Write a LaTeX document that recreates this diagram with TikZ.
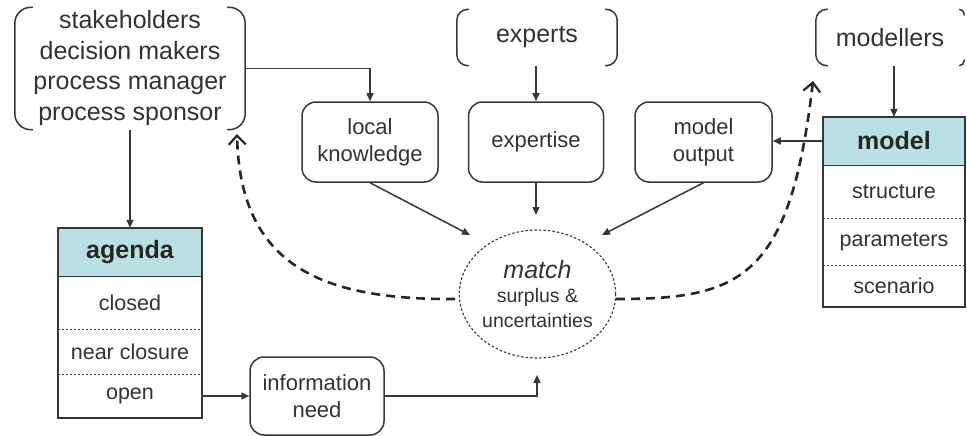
\documentclass[tikz,border=0pt]{standalone}
\usepackage{fontspec}
\setmainfont{Liberation Sans}
\usetikzlibrary{arrows.meta,shapes.geometric,calc}
\definecolor{ink}{RGB}{55,55,55}
\definecolor{txt}{RGB}{50,50,50}
\definecolor{teal0}{RGB}{185,224,226}
\begin{document}
\begin{tikzpicture}[x=1pt,y=-1pt,
  box/.style={draw=ink, line width=1.5pt, rounded corners=14pt, minimum height=80pt,
    align=center, inner sep=0pt, text=txt, font=\fontsize{22}{27}\selectfont},
  grp/.style={inner sep=0pt, align=center, text=txt, font=\fontsize{25}{30.5}\selectfont},
  brk/.style={draw=ink, line width=1.5pt},
  row/.style={inner sep=0pt, text=txt, font=\fontsize{21.5}{26}\selectfont},
  head/.style={row, fill=teal0, text=black!85, font=\bfseries\fontsize{25}{30}\selectfont},
  arr/.style={draw=ink, line width=1.5pt, -{Triangle[length=8pt,width=7pt]}},
  darr/.style={draw=black!85, line width=2.6pt, dash pattern=on 9pt off 6pt,
    -{Straight Barb[length=9pt,width=17pt,line width=2.2pt]}},
  sep/.style={draw=ink, line width=1pt, dash pattern=on 2.5pt off 1.5pt}
]
\useasboundingbox (0,0) rectangle (967,436);

% groups with brackets
\node[grp, minimum width=230pt, minimum height=121pt] (stake) at (130,68.5)
  {\raisebox{-2.5pt}{\begin{tabular}{@{}c@{}}stakeholders\\decision makers\\process manager\\process sponsor\end{tabular}}};
\draw[brk, rounded corners=16pt] ([xshift=18pt]stake.north west) -- (stake.north west) -- (stake.south west) -- ([xshift=18pt]stake.south west);
\draw[brk, rounded corners=16pt] ([xshift=-18pt]stake.north east) -- (stake.north east) -- (stake.south east) -- ([xshift=-18pt]stake.south east);

\node[grp, minimum width=160pt, minimum height=56pt] (experts) at (537,37.5) {experts};
\draw[brk, rounded corners=11pt] ([xshift=12pt]experts.north west) -- (experts.north west) -- (experts.south west) -- ([xshift=12pt]experts.south west);
\draw[brk, rounded corners=11pt] ([xshift=-12pt]experts.north east) -- (experts.north east) -- (experts.south east) -- ([xshift=-12pt]experts.south east);

\node[grp, minimum width=148pt, minimum height=56pt] (modellers) at (890,37.5) {modellers};
\draw[brk, rounded corners=11pt] ([xshift=12pt]modellers.north west) -- (modellers.north west) -- (modellers.south west) -- ([xshift=12pt]modellers.south west);
\draw[brk, rounded corners=5pt] ([xshift=-5pt]modellers.north east) -- (modellers.north east) -- ([yshift=-6pt]modellers.north east);
\draw[brk, rounded corners=5pt] ([xshift=-5pt]modellers.south east) -- (modellers.south east) -- ([yshift=6pt]modellers.south east);

% middle boxes
\node[box, minimum width=136pt] (lk) at (370,142) {local\\knowledge};
\node[box, minimum width=135pt] (exp) at (536,142) {expertise};
\node[box, minimum width=137pt] (mo) at (703.5,142) {model\\output};
\node[box, minimum width=134pt, minimum height=78pt] (info) at (317,396) {information\\need};

% match
\node[ellipse, draw=ink, line width=1.1pt, dash pattern=on 2.5pt off 2pt,
  minimum width=151pt, minimum height=128pt, inner sep=0pt, align=center, text=txt,
  font=\fontsize{19.5}{24.5}\selectfont] (match) at (537.5,294)
  {{\itshape\fontsize{25}{28}\selectfont match}\\surplus \&\\uncertainties};

% agenda table
\node[head, minimum width=144pt, minimum height=48pt] (agH) at (130,252) {agenda};
\node[row, minimum width=144pt, minimum height=53pt] (agC) at (130,302.5) {closed};
\node[row, minimum width=144pt, minimum height=45pt] (agN) at (130,351.5) {near closure};
\node[row, minimum width=144pt, minimum height=44pt] (agO) at (130,396) {open};
\draw[sep] (agC.south west) -- (agC.south east);
\draw[sep] (agN.south west) -- (agN.south east);
\draw[ink, line width=1.2pt] (agH.south west) -- (agH.south east);
\draw[ink, line width=1.5pt] (agH.north west) rectangle (agO.south east);

% model table
\node[head, minimum width=142pt, minimum height=48pt] (mH) at (894,141) {model};
\node[row, minimum width=142pt, minimum height=53pt] (mS) at (894,191.5) {structure};
\node[row, minimum width=142pt, minimum height=47pt] (mP) at (894,241.5) {parameters};
\node[row, minimum width=142pt, minimum height=42pt] (mSc) at (894,286) {scenario};
\draw[sep] (mS.south west) -- (mS.south east);
\draw[sep] (mP.south west) -- (mP.south east);
\draw[ink, line width=1.2pt] (mH.south west) -- (mH.south east);
\draw[ink, line width=1.5pt] (mH.north west) rectangle (mSc.south east);

% connector end points near match
\coordinate (in1) at (470,235);
\coordinate (in2) at (536,215);
\coordinate (in3) at (602,235);
\coordinate (in4) at (537,375);
\coordinate (dl) at (455,299);
\coordinate (dr) at (616,299);
\coordinate (tl) at (237,134);
\coordinate (tr) at (813,81);

% solid connectors
\draw[arr] (stake.east) -| (lk.north);
\draw[arr] (stake.south) -- (agH.north);
\draw[arr] (exp.north |- experts.south) -- (exp.north);
\draw[arr] (mH.north |- modellers.south) -- (mH.north);
\draw[arr] (mH.west) -- (mH.west -| mo.east);
\draw[arr] (lk.south) -- (in1);
\draw[arr] (exp.south) -- (in2);
\draw[arr] (mo.south) -- (in3);
\draw[arr] (agO.east) -- (agO.east -| info.west);
\draw[arr] (info.east) -| (in4);

% dashed feedback arrows
\draw[darr] (dl) .. controls (320,300) and (240,265) .. (tl);
\draw[darr] (dr) .. controls (740,299) and (790,280) .. (tr);
\end{tikzpicture}
\end{document}
